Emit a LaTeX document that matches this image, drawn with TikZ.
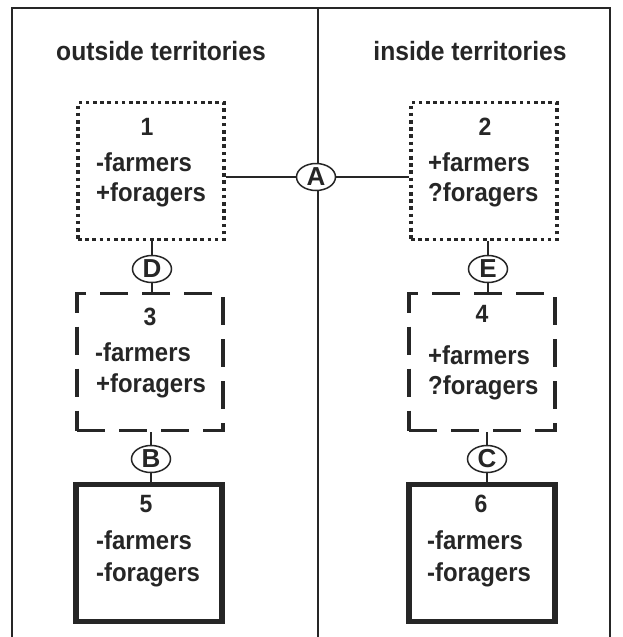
\documentclass[tikz,border=0pt]{standalone}
\usepackage{fontspec}
\setmainfont{Liberation Sans}
\usetikzlibrary{shapes.geometric}
\begin{document}
\begin{tikzpicture}[x=1pt,y=-1pt,
  frameline/.style={line width=1.4pt,black!85},
  link/.style={line width=1.3pt,black!85},
  heading/.style={font=\fontsize{26.5}{30}\selectfont\bfseries,text=black!85,anchor=base,inner sep=0pt,xscale=0.93},
  boxtext/.style={font=\fontsize{26}{30}\selectfont\bfseries,text=black!85,anchor=base west,inner sep=0pt,xscale=0.92},
  numtext/.style={font=\fontsize{25}{28}\selectfont\bfseries,text=black!85,anchor=base,inner sep=0pt,xscale=0.92},
  stagebox/.style={draw=black!85,minimum width=146pt,minimum height=137pt,inner sep=0pt},
  dotbox/.style={stagebox,line width=3.6pt,dash pattern=on 3.6pt off 3.6pt},
  dashbox/.style={stagebox,line width=3.6pt,dash pattern=on 28pt off 14pt},
  solidbox/.style={stagebox,line width=5.5pt},
  tag/.style={ellipse,draw=black!85,fill=white,line width=1.5pt,minimum width=39pt,minimum height=27pt,inner sep=0pt,font=\fontsize{26}{28}\selectfont\bfseries,text=black!85}]
\useasboundingbox (0,0) rectangle (622,637);

% frame and column divider
\draw[frameline] (12,637) -- (12,8) -- (610,8) -- (610,637);
\draw[frameline] (318,8) -- (318,637);

\node[heading] (hl) at (161,60) {outside territories};
\node[heading] (hr) at (470,60) {inside territories};

% stage boxes
\node[dotbox] (b1) at (151,171) {};
\node[dotbox] (b2) at (484,171) {};
\node[dashbox] (b3) at (150,362) {};
\node[dashbox] (b4) at (482,362) {};
\node[solidbox] (b5) at (149,553) {};
\node[solidbox] (b6) at (482,553) {};

% box contents
\node[numtext] (n1) at (147,135) {1};
\node[boxtext] (t1a) at (96,171) {-farmers};
\node[boxtext] (t1b) at (96,201) {+foragers};
\node[numtext] (n2) at (485,135) {2};
\node[boxtext] (t2a) at (428,171) {+farmers};
\node[boxtext] (t2b) at (428,201) {?foragers};
\node[numtext] (n3) at (150,325) {3};
\node[boxtext] (t3a) at (95,361) {-farmers};
\node[boxtext] (t3b) at (96,392) {+foragers};
\node[numtext] (n4) at (482,322) {4};
\node[boxtext] (t4a) at (428,364) {+farmers};
\node[boxtext] (t4b) at (428,394) {?foragers};
\node[numtext] (n5) at (146,512) {5};
\node[boxtext] (t5a) at (96,549) {-farmers};
\node[boxtext] (t5b) at (96,581) {-foragers};
\node[numtext] (n6) at (481,512) {6};
\node[boxtext] (t6a) at (427,549) {-farmers};
\node[boxtext] (t6b) at (427,581) {-foragers};

% links between stages
\node[tag] (A) at (316,177) {A};
\draw[link] (b1.east |- A) -- (A.west);
\draw[link] (A.east) -- (b2.west |- A);

\node[tag] (D) at (152,269) {D};
\draw[link] (D.north) -- (D.north |- b1.south);
\draw[link] (D.south) -- (D.south |- b3.north);

\node[tag] (E) at (488,269) {E};
\draw[link] (E.north) -- (E.north |- b2.south);
\draw[link] (E.south) -- (E.south |- b4.north);

\node[tag] (B) at (151,459) {B};
\draw[link] (B.north) -- (B.north |- b3.south);
\draw[link] (B.south) -- (B.south |- b5.north);

\node[tag] (C) at (487,459) {C};
\draw[link] (C.north) -- (C.north |- b4.south);
\draw[link] (C.south) -- (C.south |- b6.north);
\end{tikzpicture}
\end{document}
